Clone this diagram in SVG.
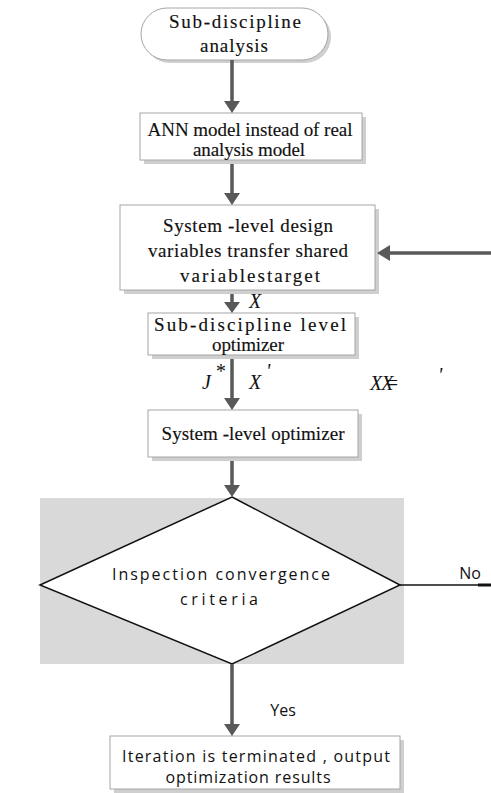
<svg xmlns="http://www.w3.org/2000/svg" width="491" height="793" viewBox="0 0 491 793">
<style>
.box{fill:#fff;stroke:#a6a6a6;stroke-width:1}
.sh{fill:#cfcfcf}
.s{font-family:"Liberation Serif","Times New Roman",serif;font-size:19px;fill:#111;stroke:#111;stroke-width:0.15;text-anchor:middle}
.i{font-family:"Liberation Serif","Times New Roman",serif;font-style:italic;font-size:20px;fill:#111}
.a{font-family:"Open Sans","DejaVu Sans",sans-serif;font-size:16px;fill:#111;text-anchor:middle}
.c{stroke:#595959;stroke-width:3.5;fill:none}
.h{fill:#595959}
</style>
<rect x="0" y="0" width="491" height="793" fill="#fff"/>
<g id="n1">
<rect class="sh" x="144" y="11" width="187" height="52" rx="26"/>
<rect class="box" x="141" y="8" width="187" height="52" rx="26"/>
<text class="s" x="235" y="28" textLength="132" lengthAdjust="spacing">Sub-discipline</text>
<text class="s" x="234" y="52" textLength="68" lengthAdjust="spacing">analysis</text>
</g>
<g id="n2">
<rect class="sh" x="144" y="117" width="222" height="47"/>
<rect class="box" x="140" y="113" width="222" height="47"/>
<text class="s" x="250" y="136" textLength="205" lengthAdjust="spacing">ANN model instead of real</text>
<text class="s" x="249" y="156" textLength="112" lengthAdjust="spacing">analysis model</text>
</g>
<g id="n3">
<rect class="sh" x="124" y="209" width="255" height="85"/>
<rect class="box" x="120" y="205" width="255" height="85"/>
<text class="s" x="248" y="232" textLength="170" lengthAdjust="spacing">System -level design</text>
<text class="s" x="248" y="257" textLength="200" lengthAdjust="spacing">variables transfer shared</text>
<text class="s" x="250" y="282" textLength="140" lengthAdjust="spacing">variablestarget</text>
</g>
<g id="n4">
<rect class="sh" x="152" y="317" width="207" height="42"/>
<rect class="box" x="148" y="313" width="207" height="42"/>
<text class="s" x="250" y="331" textLength="192" lengthAdjust="spacing">Sub-discipline level</text>
<text class="s" x="248" y="351" textLength="72" lengthAdjust="spacing">optimizer</text>
</g>
<g id="n5">
<rect class="sh" x="152" y="414" width="210" height="47"/>
<rect class="box" x="148" y="410" width="210" height="47"/>
<text class="s" x="253" y="440" textLength="183" lengthAdjust="spacing">System -level optimizer</text>
</g>
<g id="n6">
<rect x="40" y="498" width="364" height="166" fill="#d9d9d9"/>
<polygon points="232,497 400,585 232,664 40,585" fill="#fff" stroke="#111" stroke-width="1.5"/>
<text class="a" x="221" y="580" textLength="218" lengthAdjust="spacing">Inspection convergence</text>
<text class="a" x="219" y="605" textLength="78" lengthAdjust="spacing">criteria</text>
</g>
<g id="n7">
<rect class="sh" x="114" y="740" width="290" height="53"/>
<rect class="box" x="110" y="736" width="290" height="53"/>
<text class="a" x="256" y="762" textLength="268" lengthAdjust="spacing">Iteration is terminated , output</text>
<text class="a" x="248" y="783" textLength="165" lengthAdjust="spacing">optimization results</text>
</g>
<g id="connectors">
<line class="c" x1="232" y1="60" x2="232" y2="102"/>
<polygon class="h" points="224,101 240,101 232,113"/>
<line class="c" x1="232" y1="164" x2="232" y2="194"/>
<polygon class="h" points="224,193 240,193 232,205"/>
<line class="c" x1="491" y1="253" x2="389" y2="253"/>
<polygon class="h" points="390,245 390,261 377,253"/>
<line class="c" x1="232" y1="294" x2="232" y2="303"/>
<polygon class="h" points="224,302 240,302 232,313"/>
<line class="c" x1="232" y1="359" x2="232" y2="399"/>
<polygon class="h" points="224,398 240,398 232,410"/>
<line class="c" x1="232" y1="461" x2="232" y2="486"/>
<polygon class="h" points="224,485 240,485 232,497"/>
<line class="c" x1="232" y1="664" x2="232" y2="725"/>
<polygon class="h" points="224,724 240,724 232,736"/>
<line x1="400" y1="585" x2="478" y2="585" stroke="#111" stroke-width="1.5"/>
<line x1="478" y1="585" x2="491" y2="585" stroke="#111" stroke-width="3"/>
</g>
<g id="labels">
<text class="i" x="249" y="308">X</text>
<text class="i" x="202" y="389">J</text>
<text class="i" x="215" y="378" font-size="12">*</text>
<text class="i" x="249" y="389">X</text>
<text class="i" x="266" y="378" font-size="12">'</text>
<text class="i" x="370" y="390" dx="0 -1 -8">XX=</text>
<text class="i" x="438" y="382" font-size="13">'</text>
<text class="a" x="470" y="579">No</text>
<text class="a" x="283" y="716">Yes</text>
</g>
</svg>
